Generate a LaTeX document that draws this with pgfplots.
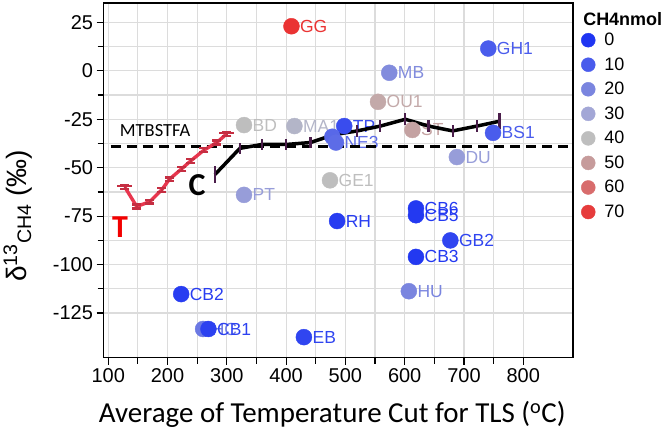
\documentclass[border=0pt]{standalone}
\usepackage{fontspec}
\setmainfont{Liberation Sans}
\newfontfamily\calibri{Carlito}
\usepackage{pgfplots}
\pgfplotsset{compat=1.18}

\definecolor{gridgray}{HTML}{DCDCDC}
\definecolor{c0}{HTML}{1F35F2}
\definecolor{c10}{HTML}{4A5CEC}
\definecolor{c20}{HTML}{7A85DF}
\definecolor{c30}{HTML}{A3A7D6}
\definecolor{c40}{HTML}{BEBEBE}
\definecolor{c50}{HTML}{C69B9B}
\definecolor{c60}{HTML}{D86C6C}
\definecolor{c70}{HTML}{E63C3C}
\definecolor{redline}{HTML}{E8364E}
\definecolor{errpurple}{HTML}{4B1E4B}

\pgfplotsset{
  dot/.style={only marks, mark=*, mark size=8pt, color=#1, forget plot},
}
\tikzset{
  lab/.style={anchor=west, xshift=8.5pt, inner sep=0pt, text=#1, font=\fontsize{17.5}{20}\selectfont},
}

\begin{document}
\begin{tikzpicture}
\path (-103pt,-77pt) rectangle (565pt,358pt);
\begin{axis}[name=ax,
  scale only axis, width=470pt, height=355pt,
  xmin=92, xmax=884, ymin=-148, ymax=35,
  xtick={100,200,...,800}, ytick={-125,-100,...,25},
  minor x tick num=1, minor y tick num=1,
  grid=both,
  major grid style={color=gridgray, line width=1.2pt},
  minor grid style={color=gridgray, line width=1.2pt},
  axis line style={line width=1.3pt},
  tick align=outside, tick pos=left,
  major tick length=7pt, minor tick length=6pt,
  every tick/.style={black, line width=1.2pt},
  tick label style={font=\fontsize{20}{22}\selectfont},
  /pgf/number format/assume math mode=true,
  xlabel={\calibri Average of Temperature Cut for TLS (\textsuperscript{o}C)},
  xlabel style={font=\fontsize{29}{30}\selectfont, at={(axis description cs:0.487,-0.16)}, anchor=center},
  ylabel={δ\textsuperscript{13}\textsubscript{CH4} (‰)},
  ylabel style={font=\fontsize{28}{30}\selectfont, at={(axis description cs:-0.183,0.40)}, anchor=center},
  legend style={at={(1,1)}, anchor=north west, xshift=5pt, yshift=-26pt,
    draw=none, fill=none, font=\fontsize{18}{20}\selectfont, row sep=6.5pt, column sep=7pt,
    legend cell align=left},
]
% samples, coloured by CH4 (nmol)
\addplot[dot=c70!85!red] coordinates {(409,23)};
\node[lab=c70!85!red] at (axis cs:409,23) {GG};
\addplot[dot=c10] coordinates {(741,11.5)};
\node[lab=c10] at (axis cs:741,11.5) {GH1};
\addplot[dot=c20!80!c30] coordinates {(574,-1)};
\node[lab=c20!80!c30] at (axis cs:574,-1) {MB};
\addplot[dot=c50!60!c40] coordinates {(555,-16)};
\node[lab=c50!60!c40] at (axis cs:555,-16) {OU1};
\addplot[dot=c40] coordinates {(329,-28)};
\node[lab=c40] at (axis cs:329,-28) {BD};
\addplot[dot=c40!60!c30] coordinates {(414,-28.5)};
\node[lab=c40!60!c30] at (axis cs:414,-28.5) {MA1};
\addplot[dot=c10!60!c0] coordinates {(498,-28.5)};
\node[lab=c10!60!c0] at (axis cs:498,-28.5) {TP};
\addplot[dot=c10!70!c20] coordinates {(478,-34)};
\addplot[dot=c10!60!c20] coordinates {(484,-37)};
\node[lab=c10!60!c20] at (axis cs:484,-37) {NE3};
\addplot[dot=c50!80!c40] coordinates {(613,-30.5)};
\node[lab=c50!80!c40] at (axis cs:613,-30.5) {ST};
\addplot[dot=c10] coordinates {(749,-32)};
\node[lab=c10] at (axis cs:749,-32) {BS1};
\addplot[dot=c30!70!c20] coordinates {(688,-44.5)};
\node[lab=c30!70!c20] at (axis cs:688,-44.5) {DU};
\addplot[dot=c40] coordinates {(474,-56.5)};
\node[lab=c40] at (axis cs:474,-56.5) {GE1};
\addplot[dot=c30!70!c20] coordinates {(329,-64)};
\node[lab=c30!70!c20] at (axis cs:329,-64) {PT};
\addplot[dot=c0!80!c10] coordinates {(486,-77.5)};
\node[lab=c0!80!c10] at (axis cs:486,-77.5) {RH};
\addplot[dot=c0!90!c10] coordinates {(619,-71)};
\node[lab=c0!90!c10] at (axis cs:619,-71) {CB6};
\addplot[dot=c0!90!c10] coordinates {(619,-74.5)};
\node[lab=c0!90!c10] at (axis cs:619,-74.5) {CB5};
\addplot[dot=c0!60!c10] coordinates {(677,-87.5)};
\node[lab=c0!60!c10] at (axis cs:677,-87.5) {GB2};
\addplot[dot=c0!90!c10] coordinates {(619,-96)};
\node[lab=c0!90!c10] at (axis cs:619,-96) {CB3};
\addplot[dot=c20] coordinates {(607,-113.7)};
\node[lab=c20] at (axis cs:607,-113.7) {HU};
\addplot[dot=c0!80!c10] coordinates {(223,-115.2)};
\node[lab=c0!80!c10] at (axis cs:223,-115.2) {CB2};
\addplot[dot=c20!70!c10] coordinates {(260,-133.2)};
\node[lab=c20!70!c10] at (axis cs:260,-133.2) {HC};
\addplot[dot=c0!70!c10] coordinates {(269,-133.2)};
\node[lab=c0!70!c10] at (axis cs:269,-133.2) {CB1};
\addplot[dot=c0!60!c10] coordinates {(430,-137.4)};
\node[lab=c0!60!c10] at (axis cs:430,-137.4) {EB};

% MTBSTFA reference level
\addplot[black, line width=2.8pt, dash pattern=on 10pt off 6pt, forget plot]
  coordinates {(104,-38.9) (884,-38.9)};
\node[font=\calibri\fontsize{18.5}{20}\selectfont] at (axis cs:179,-30.8) {MTBSTFA};

% T curve
\addplot[redline, line width=3.4pt, forget plot,
  error bars/.cd, y dir=both, y explicit,
  error bar style={line width=2.2pt, redline!85!black},
  error mark options={rotate=90, mark size=4.5pt, line width=2.2pt, redline!85!black}]
  coordinates {(128,-60) +- (0,1) (148,-70) +- (0,1) (170,-67.5) +- (0,1)
   (190,-61.5) +- (0,1) (203,-56) +- (0,1) (224,-50.5) +- (0,1)
   (239,-46.5) +- (0,1) (261,-41) +- (0,1) (283,-37) +- (0,1) (300,-32.5) +- (0,1)};
\addplot[draw=none, forget plot,
  error bars/.cd, y dir=plus, y explicit,
  error bar style={line width=2.2pt, redline!85!black},
  error mark options={rotate=90, mark size=7.5pt, line width=2.4pt, redline!85!black}]
  coordinates {(128,-60) +- (0,0.5) (300,-32.5) +- (0,0.5)};
\node[font=\calibri\bfseries\fontsize{32}{32}\selectfont, text=red!95!black] at (axis cs:120,-80.7) {T};

% C curve
\addplot[black, line width=3.5pt, forget plot,
  error bars/.cd, y dir=both, y explicit,
  error bar style={line width=2.2pt, errpurple},
  error mark=none]
  coordinates {(280,-53.5) +- (0,4.5) (322,-40) +- (0,3) (359,-38) +- (0,3)
   (400,-38) +- (0,3) (441,-37) +- (0,3) (480,-33) +- (0,3) (520,-31) +- (0,3)
   (559,-28.5) +- (0,3) (601,-25) +- (0,3) (640,-28.5) +- (0,3) (681,-31) +- (0,3)
   (722,-28.5) +- (0,3) (760,-26) +- (0,4)};
\node[font=\calibri\bfseries\fontsize{32}{32}\selectfont] at (axis cs:250,-59) {C};

% legend
\addlegendimage{only marks, mark=*, mark size=7pt, color=c0}
\addlegendentry{0}
\addlegendimage{only marks, mark=*, mark size=7pt, color=c10}
\addlegendentry{10}
\addlegendimage{only marks, mark=*, mark size=7pt, color=c20}
\addlegendentry{20}
\addlegendimage{only marks, mark=*, mark size=7pt, color=c30}
\addlegendentry{30}
\addlegendimage{only marks, mark=*, mark size=7pt, color=c40}
\addlegendentry{40}
\addlegendimage{only marks, mark=*, mark size=7pt, color=c50}
\addlegendentry{50}
\addlegendimage{only marks, mark=*, mark size=7pt, color=c60}
\addlegendentry{60}
\addlegendimage{only marks, mark=*, mark size=7pt, color=c70}
\addlegendentry{70}
\end{axis}
\node[anchor=west, inner sep=0pt, font=\bfseries\fontsize{18}{20}\selectfont]
  at ([xshift=10pt,yshift=-16.5pt]ax.north east) {CH4nmol};
\end{tikzpicture}
\end{document}
